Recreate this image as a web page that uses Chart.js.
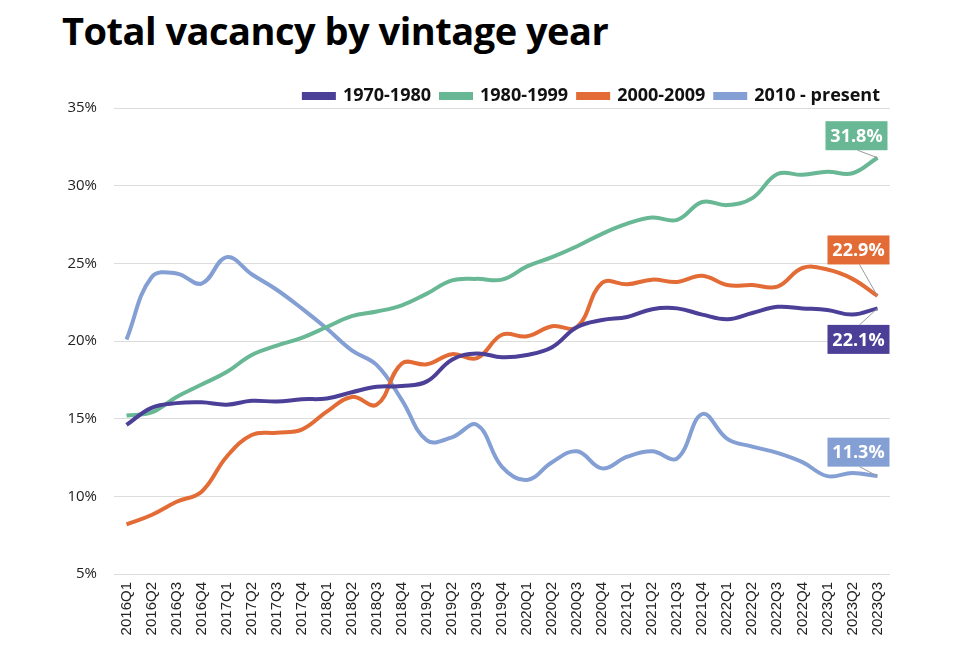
<!DOCTYPE html>
<html>
<head>
<meta charset="utf-8">
<script src="https://cdn.jsdelivr.net/npm/chart.js@4/dist/chart.umd.min.js"></script>
<style>
  html, body { margin: 0; padding: 0; background: #fff; }
  #wrap { position: relative; width: 960px; height: 655px; }
  #titre {
    position: absolute; left: 62px; top: 4px; margin: 0;
    font-family: "Open Sans", sans-serif; font-weight: 700; font-size: 38px;
    color: #000; letter-spacing: -0.5px;
  }
  canvas { position: absolute; left: 0; top: 0; }
</style>
</head>
<body>
<div id="wrap">
  <h1 id="titre">Total vacancy by vintage year</h1>
  <canvas id="grafico" width="960" height="655"></canvas>
</div>
<script>
const trimestres = [
  "2016Q1", "2016Q2", "2016Q3", "2016Q4", "2017Q1", "2017Q2", "2017Q3", "2017Q4",
  "2018Q1", "2018Q2", "2018Q3", "2018Q4", "2019Q1", "2019Q2", "2019Q3", "2019Q4",
  "2020Q1", "2020Q2", "2020Q3", "2020Q4", "2021Q1", "2021Q2", "2021Q3", "2021Q4",
  "2022Q1", "2022Q2", "2022Q3", "2022Q4", "2023Q1", "2023Q2", "2023Q3"
];

const series = ["1970-1980", "1980-1999", "2000-2009", "2010 - present"];

const vac1970 = [14.6, 15.7, 16.0, 16.05, 15.9, 16.15, 16.1, 16.25, 16.3, 16.7, 17.05, 17.1, 17.4, 18.8, 19.2, 18.95,
  19.1, 19.6, 20.9, 21.35, 21.55, 22.05, 22.1, 21.7, 21.4, 21.8, 22.2, 22.1, 22.0, 21.7, 22.1];
const vac1980 = [15.2, 15.4, 16.4, 17.2, 18.0, 19.1, 19.7, 20.2, 20.9, 21.6, 21.9, 22.3, 23.05, 23.9, 24.0, 23.95,
  24.8, 25.4, 26.1, 26.9, 27.55, 27.95, 27.8, 28.95, 28.75, 29.2, 30.75, 30.7, 30.9, 30.8, 31.8];
const vac2000 = [8.2, 8.8, 9.65, 10.3, 12.55, 13.95, 14.1, 14.3, 15.45, 16.4, 15.9, 18.55, 18.5, 19.15, 18.9, 20.4,
  20.3, 20.95, 20.9, 23.75, 23.65, 23.95, 23.8, 24.2, 23.6, 23.6, 23.5, 24.7, 24.6, 24.0, 22.9];
const vac2010 = [20.1, 24.1, 24.35, 23.7, 25.4, 24.3, 23.3, 22.1, 20.8, 19.4, 18.45, 16.2, 13.6, 13.8, 14.6, 11.9,
  11.05, 12.2, 12.9, 11.8, 12.55, 12.9, 12.45, 15.3, 13.7, 13.2, 12.8, 12.2, 11.3, 11.5, 11.3];

const yTicks = [5, 10, 15, 20, 25, 30, 35];

const cores = ["#4B3F98", "#68B795", "#E36C36", "#839FD4"];

// posicao das etiquetas finais em relacao ao ultimo ponto
const deslocEtiquetas = [
  { dx: -19, dy: 31 },
  { dx: -21, dy: -22 },
  { dx: -19, dy: -46 },
  { dx: -19, dy: -24 }
];

const etiquetasFinais = {
  id: "etiquetasFinais",
  afterLayout(chart) {
    // desce um pouco a legenda, sem mexer na area do grafico
    chart.legend.top += 7;
    chart.legend.bottom += 7;
  },
  afterDatasetsDraw(chart) {
    const ctx = chart.ctx;
    ctx.save();
    chart.data.datasets.forEach((ds, i) => {
      const meta = chart.getDatasetMeta(i);
      const ult = meta.data[meta.data.length - 1];
      const off = deslocEtiquetas[i];
      const w = 62, h = 29;
      const cx = ult.x + off.dx, cy = ult.y + off.dy;
      ctx.strokeStyle = "#9a9a9a";
      ctx.lineWidth = 1;
      ctx.beginPath();
      ctx.moveTo(cx + 1, off.dy < 0 ? cy + h / 2 : cy - h / 2);
      ctx.lineTo(ult.x, ult.y);
      ctx.stroke();
      ctx.fillStyle = cores[i];
      ctx.fillRect(cx - w / 2, cy - h / 2, w, h);
      ctx.fillStyle = "#fff";
      ctx.font = "700 18px 'Open Sans'";
      ctx.textAlign = "center";
      ctx.textBaseline = "middle";
      ctx.fillText(ds.data[ds.data.length - 1].toFixed(1) + "%", cx, cy + 1);
    });
    ctx.restore();
  }
};

const valores = [vac1970, vac1980, vac2000, vac2010];

const ctx = document.getElementById("grafico").getContext("2d");
const grafico = new Chart(ctx, {
  type: "line",
  data: {
    labels: trimestres,
    datasets: series.map((nome, i) => ({
      label: nome,
      data: valores[i],
      borderColor: cores[i],
      backgroundColor: cores[i],
      borderWidth: 4,
      pointRadius: 0,
      tension: 0.4,
      fill: false
    }))
  },
  options: {
    responsive: false,
    animation: false,
    layout: { padding: { top: 70, right: 70, left: 0, bottom: 0 } },
    plugins: {
      legend: {
        position: "top",
        align: "end",
        labels: {
          boxWidth: 30,
          boxHeight: 4,
          padding: 10,
          color: "#111",
          font: { family: "Open Sans", weight: "700", size: 18 }
        }
      },
      tooltip: { enabled: false }
    },
    scales: {
      x: {
        offset: true,
        grid: { display: false, drawTicks: false },
        border: { display: false },
        ticks: {
          autoSkip: false,
          maxRotation: 90,
          minRotation: 90,
          padding: 8,
          color: "#222",
          font: { family: "Liberation Sans", size: 15 }
        },
        afterFit(scale) { scale.height = 81; }
      },
      y: {
        min: 5,
        max: 35,
        grid: { color: "#dcdcdc", lineWidth: 1, drawTicks: false },
        border: { display: false },
        afterBuildTicks(scale) { scale.ticks = yTicks.map(v => ({ value: v })); },
        ticks: {
          padding: 17,
          color: "#222",
          font: { family: "Open Sans", size: 15 },
          callback: v => v + "%"
        },
        afterFit(scale) { scale.width = 114; }
      }
    }
  },
  plugins: [etiquetasFinais]
});
</script>
</body>
</html>
